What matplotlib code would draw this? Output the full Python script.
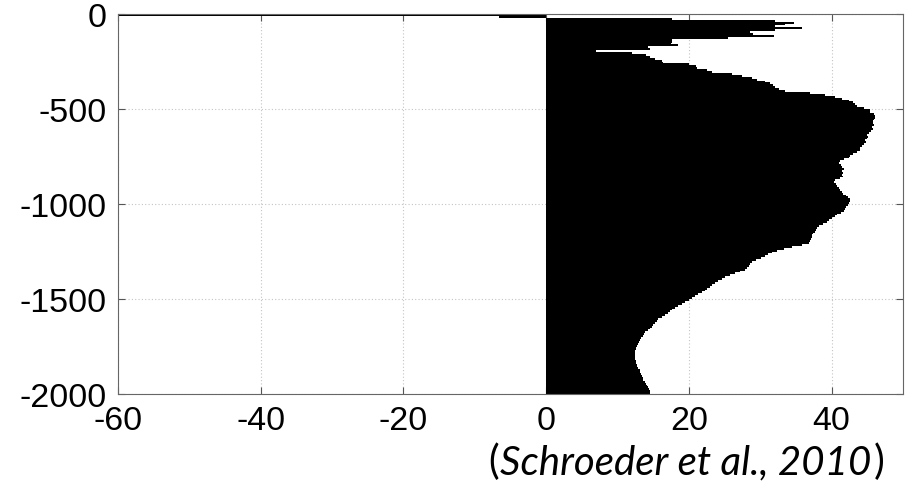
import numpy as np
import matplotlib
matplotlib.use("Agg")
import matplotlib.pyplot as plt
from matplotlib.offsetbox import TextArea, HPacker, AnchoredOffsetbox

# Profile sampled every 10 m from the surface down to 2000 m
depth = -np.arange(0, 2001, 10)
values = [
    -60, -6.6, 17.6, 32, 34.7, 33.5, 32, 35.8, 32, 28.5,
    29, 31.9, 25.5, 17.6, 17.6, 17.5, 18.5, 14.3, 14.6, 7,
    12, 14, 14.5, 15.3, 16.2, 16.3, 20, 21, 21.1, 22.5,
    23.2, 26, 27.5, 28.8, 29.5, 30.7, 31.3, 31.8, 32, 32.6,
    33.5, 37, 39, 40.5, 41.5, 42.4, 43, 43.3, 43.6, 44.5,
    45.4, 45.4, 46, 46.1, 46.1, 46, 45.8, 45.8, 45.9, 45.7,
    45.8, 45.5, 45.3, 45, 45.1, 44.9, 44.7, 44.8, 44.5, 44.3,
    44, 44, 43.6, 43, 42.6, 42.4, 41.8, 41.2, 41, 41.3,
    41.5, 41.8, 41.5, 41.6, 41.4, 41.6, 41.2, 40.5, 40.4, 40.6,
    40.8, 41, 41.2, 41.4, 41.6, 42, 42.3, 42.6, 42.6, 42.5,
    42.3, 42, 41.9, 41.7, 41.3, 40.8, 40.5, 40.1, 39.6, 39.3,
    38.8, 38.2, 38, 37.8, 37.6, 37.4, 37.3, 37.2, 37.1, 37,
    36.8, 35.8, 34.5, 33.3, 32.4, 31.6, 31.1, 30.7, 30.1, 29.4,
    28.8, 28.6, 28.4, 28.1, 27.9, 27.2, 26.5, 25.8, 25.1, 24.6,
    24.1, 23.7, 23.3, 22.9, 22.6, 22.3, 21.8, 21.3, 20.9, 20.4,
    20, 19.5, 19, 18.5, 18.1, 17.7, 17.4, 17.1, 16.6, 16.2,
    15.7, 15.5, 15.2, 15, 14.8, 14.5, 14.2, 13.9, 13.7, 13.5,
    13.3, 13.2, 13, 12.8, 12.7, 12.6, 12.6, 12.5, 12.5, 12.5,
    12.5, 12.5, 12.6, 12.6, 12.7, 12.7, 12.9, 13.1, 13.2, 13.3,
    13.4, 13.5, 13.6, 13.8, 14, 14.1, 14.3, 14.4, 14.5, 14.6,
    14.8,
]
x_ticks = [-60, -40, -20, 0, 20, 40]
y_ticks = [-2000, -1500, -1000, -500, 0]
source = "Schroeder et al., 2010"

plt.rcParams["font.family"] = ["Liberation Sans", "DejaVu Sans"]
plt.rcParams["axes.unicode_minus"] = False

fig = plt.figure(figsize=(9.07, 4.85), dpi=100)
ax = fig.add_axes([118 / 907, 1 - 395 / 485, (903 - 118) / 907, (395 - 15) / 485])

# each bar covers the 10 m layer below its depth
ax.barh(depth, values, height=-10, align="edge", color="black",
        edgecolor="none", zorder=2)

ax.set_xlim(-60, 50)
ax.set_ylim(-2000, 0)
ax.set_xticks(x_ticks)
ax.set_yticks(y_ticks)
ax.set_axisbelow(True)
ax.grid(True, color="#c4c4c4", linestyle=(0, (1, 2)), linewidth=0.8)

ax.tick_params(direction="in", length=5, width=0.8, color="#555555",
               labelsize=24.5, top=True, right=True)
ax.tick_params(axis="x", pad=8)
ax.tick_params(axis="y", pad=8)
for s in ax.spines.values():
    s.set_color("#666666")
    s.set_linewidth(0.8)

# Citation: upright parentheses around an italic reference
cite_font = dict(fontsize=29, family=["Lato", "DejaVu Sans"], color="black")
parts = [
    TextArea("(", textprops=cite_font),
    TextArea(source, textprops=dict(cite_font, style="italic")),
    TextArea(")", textprops=cite_font),
]
packer = HPacker(children=parts, align="baseline", pad=0, sep=1)
box = AnchoredOffsetbox(loc="lower right", child=packer, pad=0, borderpad=0,
                        frameon=False,
                        bbox_to_anchor=(884 / 907, 1 - 481 / 485),
                        bbox_transform=fig.transFigure)
fig.add_artist(box)

fig.savefig("out.png", dpi=100)
